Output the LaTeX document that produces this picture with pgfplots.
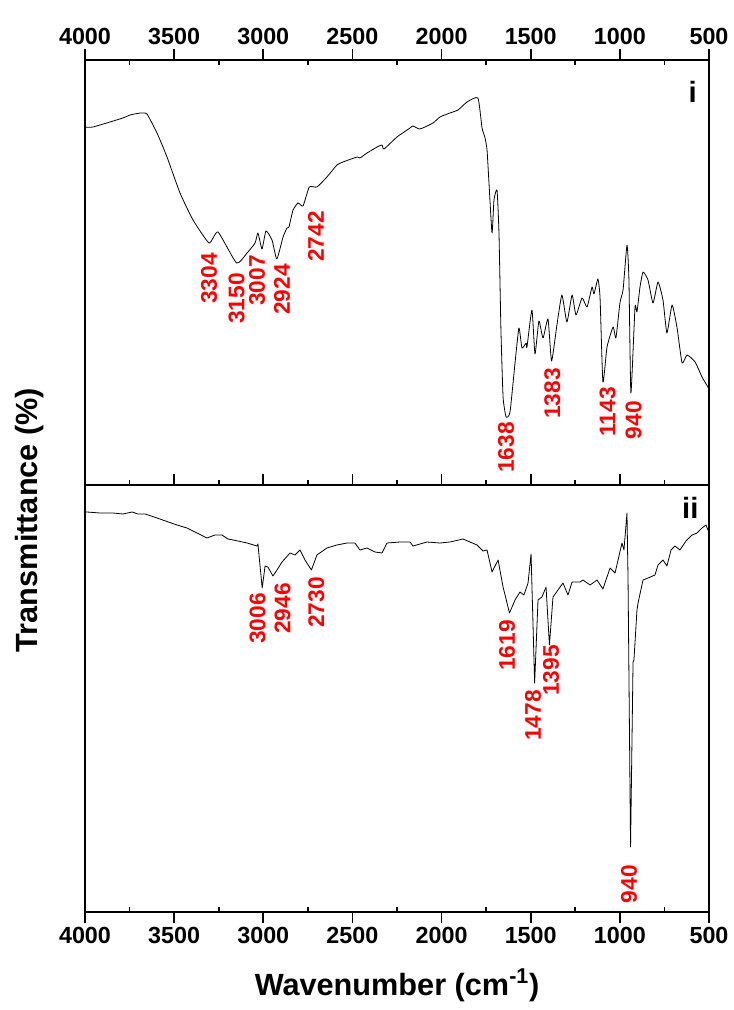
\documentclass[border=0pt]{standalone}
\usepackage{fontspec}
\setmainfont{Liberation Sans}
\usepackage{pgfplots}
\pgfplotsset{compat=1.18}

% FTIR spectrum i (wavenumber, relative transmittance)
\pgfplotstableread{
wn v
4000 358
3955 358
3787 367
3748 370
3691 372
3675 372
3652 371
3596 352
3540 328
3467 292
3394 265
3304 242
3254 253
3150 222
3091 232
3046 242
3030 252
3007 236
2985 254
2951 245
2924 226
2889 248
2867 257
2856 258
2833 275
2805 282
2777 279
2742 298
2699 298
2643 308
2587 320
2553 323
2474 328
2458 327
2418 332
2362 338
2334 340
2323 336
2250 348
2177 357
2160 359
2121 356
2048 362
2009 368
1953 372
1908 375
1857 383
1796 387
1773 357
1756 347
1745 335
1734 302
1717 252
1706 285
1689 295
1678 252
1667 155
1655 88
1638 68
1616 73
1588 122
1566 157
1549 137
1526 142
1521 138
1493 175
1476 131
1454 164
1431 147
1403 166
1383 124
1353 160
1325 190
1297 163
1268 190
1246 170
1212 187
1184 178
1156 198
1145 191
1123 206
1111 187
1095 103
1072 138
1038 158
1022 147
999 183
982 195
960 240
949 205
938 92
915 178
904 173
887 198
870 213
842 205
814 182
786 203
758 185
736 152
707 180
679 157
651 122
623 130
578 123
539 108
506 98
500 96
}\specI

% FTIR spectrum ii
\pgfplotstableread{
wn v
4000 400
3989 400
3916 399
3843 399
3787 398
3736 400
3703 398
3663 398
3596 394
3484 387
3428 384
3372 379
3316 374
3271 377
3232 377
3198 373
3142 371
3091 369
3035 366
3030 368
3006 324
2990 346
2974 345
2946 336
2923 342
2895 350
2850 359
2822 357
2794 362
2766 352
2730 342
2699 357
2643 364
2587 367
2530 369
2486 369
2458 362
2418 364
2373 360
2334 359
2306 369
2233 370
2177 370
2160 366
2082 370
2009 369
1953 370
1880 373
1801 367
1768 361
1745 362
1717 340
1683 352
1655 325
1619 299
1588 312
1560 320
1538 317
1515 329
1498 358
1478 229
1459 312
1437 315
1414 325
1395 267
1375 315
1347 322
1319 329
1291 317
1268 330
1223 330
1207 332
1167 327
1128 332
1095 323
1055 344
1027 339
988 369
977 362
960 399
954 332
940 65
926 250
921 252
904 302
898 309
870 332
842 334
803 337
786 347
758 352
736 346
713 362
691 366
663 362
629 371
595 377
567 379
539 384
517 387
506 382
500 382
}\specII

\pgfplotsset{
  panel/.style={
    scale only axis, width=468pt,
    xmin=500, xmax=4000, x dir=reverse, ymin=0,
    ytick=\empty,
    axis line style={line width=1.2pt, black},
    every tick/.style={line width=1.2pt, black},
    xticklabel style={font=\fontsize{17.5}{19}\selectfont\bfseries},
  },
  overlay top/.style={panel, axis x line*=top, axis y line=none},
  overlay bottom/.style={panel, axis x line*=bottom, axis y line=none},
  spec/.style={black, line width=0.6pt, line join=round},
}
\tikzset{
  peak/.style={rotate=90, anchor=east, inner sep=0pt, text=red,
    font=\fontsize{17}{19}\selectfont\bfseries},
  tag/.style={anchor=north, inner sep=0pt,
    font=\fontsize{22}{24}\selectfont\bfseries},
}

\begin{document}
\begin{tikzpicture}
% ---------- panel i ----------
\begin{axis}[panel, name=T, height=318.75pt, ymax=425,
  xtick pos=bottom, tick align=inside,
  xtick={500,1000,...,4000}, minor x tick num=1,
  major tick length=8pt, minor tick length=4pt,
  xticklabel=\empty, clip=false]
  \addplot[spec, smooth, tension=0.3] table[x=wn, y=v] {\specI};
  \node[peak] at (axis cs:3304,232) {3304};
  \node[peak] at (axis cs:3150,212) {3150};
  \node[peak] at (axis cs:3035,230) {3007};
  \node[peak] at (axis cs:2895,221) {2924};
  \node[peak] at (axis cs:2704,274) {2742};
  \node[peak] at (axis cs:1638,63) {1638};
  \node[peak] at (axis cs:1378,117) {1383};
  \node[peak] at (axis cs:1069,98) {1143};
  \node[peak] at (axis cs:923,84) {940};
  \node[tag] at (rel axis cs:0.974,0.950) {i};
\end{axis}
% top scale: outward major ticks with labels
\begin{axis}[overlay top, at={(T.south west)}, anchor=south west,
  height=318.75pt, ymax=425, tick align=outside,
  xtick={500,1000,...,4000},
  xticklabels={500,1000,1500,2000,2500,3000,3500,4000},
  major tick length=8pt]
\end{axis}
% top scale: inward minor ticks
\begin{axis}[overlay top, at={(T.south west)}, anchor=south west,
  height=318.75pt, ymax=425, tick align=inside,
  xtick={750,1250,...,3750}, xticklabel=\empty,
  major tick length=4pt]
\end{axis}

% ---------- panel ii ----------
\begin{axis}[panel, name=B, at={(T.south west)}, anchor=north west,
  height=320.25pt, ymax=427,
  xtick pos=bottom, tick align=inside,
  xtick={750,1250,...,3750}, xticklabel=\empty,
  major tick length=4pt, clip=false]
  \addplot[spec] table[x=wn, y=v] {\specII};
  \node[peak] at (axis cs:3032,319) {3006};
  \node[peak] at (axis cs:2892,329) {2946};
  \node[peak] at (axis cs:2702,335) {2730};
  \node[peak] at (axis cs:1633,292) {1619};
  \node[peak] at (axis cs:1487,222) {1478};
  \node[peak] at (axis cs:1386,267) {1395};
  \node[peak] at (axis cs:949,47) {940};
  \node[tag] at (rel axis cs:0.970,0.972) {ii};
\end{axis}
% bottom scale: outward major ticks with labels
\begin{axis}[overlay bottom, at={(B.south west)}, anchor=south west,
  height=320.25pt, ymax=427, tick align=outside,
  xtick={500,1000,...,4000},
  xticklabels={500,1000,1500,2000,2500,3000,3500,4000},
  major tick length=8pt]
\end{axis}

% axis titles
\node[rotate=90, font=\fontsize{23}{26}\selectfont\bfseries]
  at ([xshift=-41.25pt,yshift=-26.25pt]T.south west) {Transmittance (\%)};
\node[font=\fontsize{23}{26}\selectfont\bfseries]
  at ([yshift=-54.75pt]B.south) {Wavenumber (cm\textsuperscript{-1})};

% page extent
\path ([xshift=-63.75pt,yshift=45pt]T.north west)
  rectangle ([xshift=18.75pt,yshift=-73.5pt]B.south east);
\end{tikzpicture}
\end{document}
